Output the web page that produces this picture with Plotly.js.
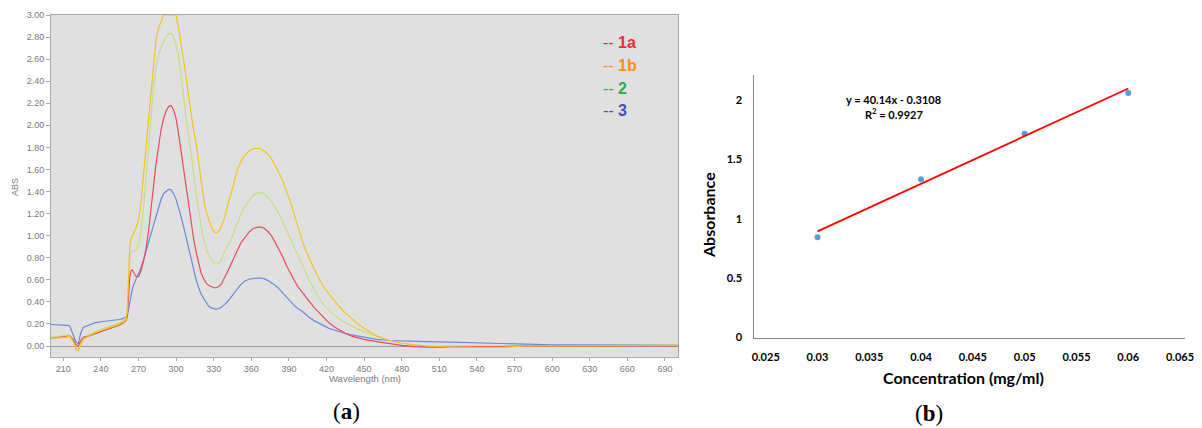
<!DOCTYPE html>
<html><head><meta charset="utf-8">
<script src="https://cdn.plot.ly/plotly-3.0.1.min.js"></script>
<style>html,body{margin:0;padding:0;background:#fff;} #chart{width:1202px;height:428px;}</style>
</head><body><div id="chart"></div>
<script>
// ---- Panel (a): UV-Vis spectra ----
const wavelength = [200,205,210,215,218,220,222,224,226,230,
 235,240,245,250,255,258,260,261,262,263,
 264,265,266,268,270,272,274,276,278,280,
 282,284,286,288,290,292,294,296,298,300,
 302,304,306,308,310,312,314,316,318,320,
 322,324,326,328,330,332,334,336,338,340,
 343,346,349,352,355,358,361,364,367,370,
 373,376,379,382,385,388,391,394,397,400,
 403,406,410,414,418,422,426,430,435,440,
 445,450,460,470,480,490,500,520,540,560,
 580,600,650,700];
const abs1a = [0.07,0.075,0.08,0.09,0.06,0.01,0.00,0.05,0.08,0.09,
 0.11,0.13,0.15,0.17,0.19,0.21,0.23,0.26,0.45,0.62,
 0.68,0.69,0.67,0.63,0.63,0.68,0.77,0.88,1.04,1.22,
 1.45,1.65,1.82,1.96,2.06,2.13,2.17,2.18,2.14,2.06,
 1.92,1.76,1.60,1.44,1.28,1.12,0.97,0.85,0.74,0.66,
 0.61,0.57,0.55,0.535,0.528,0.528,0.54,0.56,0.60,0.65,
 0.72,0.80,0.87,0.94,0.99,1.03,1.06,1.075,1.08,1.07,
 1.04,1.00,0.94,0.88,0.81,0.73,0.66,0.60,0.54,0.50,
 0.45,0.41,0.35,0.30,0.25,0.21,0.175,0.145,0.115,0.09,
 0.075,0.06,0.04,0.02,0.005,-0.005,-0.01,-0.012,-0.005,-0.005,
 0.0,-0.002,0.0,0.0];
const abs1b = [0.07,0.07,0.075,0.09,0.04,-0.03,-0.045,0.01,0.06,0.09,
 0.12,0.14,0.16,0.18,0.20,0.22,0.24,0.30,0.60,0.90,
 0.97,0.99,1.02,1.07,1.14,1.30,1.52,1.80,2.05,2.30,
 2.60,2.78,2.88,2.95,3.0,3.0,3.0,3.0,3.0,3.0,
 2.88,2.74,2.59,2.44,2.26,2.08,1.95,1.84,1.66,1.50,
 1.33,1.22,1.14,1.08,1.04,1.027,1.04,1.08,1.14,1.22,
 1.34,1.48,1.60,1.68,1.73,1.765,1.785,1.792,1.79,1.77,
 1.74,1.70,1.64,1.57,1.50,1.41,1.31,1.20,1.08,0.98,
 0.88,0.80,0.70,0.61,0.53,0.47,0.41,0.36,0.30,0.25,
 0.20,0.16,0.09,0.05,0.025,0.01,0.0,-0.012,-0.015,-0.012,
 0.0,0.0,0.0,0.005];
const abs2 = [0.08,0.085,0.09,0.10,0.05,-0.01,-0.03,0.03,0.07,0.10,
 0.13,0.15,0.17,0.19,0.21,0.23,0.25,0.30,0.55,0.78,
 0.85,0.86,0.86,0.87,0.92,1.05,1.25,1.52,1.83,2.10,
 2.35,2.52,2.64,2.71,2.76,2.80,2.83,2.835,2.80,2.73,
 2.64,2.45,2.24,2.07,1.91,1.75,1.57,1.38,1.22,1.08,
 0.97,0.88,0.82,0.78,0.75,0.743,0.75,0.78,0.83,0.89,
 0.94,1.03,1.12,1.20,1.27,1.32,1.36,1.385,1.39,1.38,
 1.35,1.31,1.26,1.20,1.13,1.05,0.97,0.90,0.83,0.76,
 0.68,0.60,0.51,0.43,0.37,0.32,0.28,0.25,0.21,0.18,
 0.155,0.13,0.09,0.05,0.025,0.01,0.002,0.0,0.002,0.0,
 0.002,0.002,0.005,0.01];
const abs3 = [0.195,0.195,0.19,0.185,0.10,0.04,0.02,0.12,0.17,0.19,
 0.21,0.22,0.225,0.23,0.24,0.25,0.26,0.27,0.33,0.40,
 0.45,0.51,0.55,0.60,0.65,0.71,0.78,0.86,0.94,1.02,
 1.10,1.18,1.26,1.33,1.38,1.40,1.42,1.415,1.38,1.33,
 1.26,1.17,1.08,0.98,0.88,0.78,0.68,0.60,0.53,0.47,
 0.43,0.39,0.36,0.345,0.337,0.335,0.34,0.35,0.37,0.39,
 0.43,0.48,0.52,0.56,0.59,0.605,0.613,0.616,0.616,0.61,
 0.595,0.575,0.55,0.52,0.48,0.44,0.40,0.37,0.34,0.32,
 0.29,0.26,0.23,0.205,0.18,0.16,0.145,0.13,0.115,0.10,
 0.09,0.075,0.06,0.05,0.045,0.04,0.04,0.035,0.03,0.025,
 0.015,0.01,0.01,0.01];
const seriesNames = ['1a','1b','2','3'];
const wlTicks = [210,240,270,300,330,360,390,420,450,480,510,540,570,600,630,660,690];
const absTicks = [0,0.2,0.4,0.6,0.8,1.0,1.2,1.4,1.6,1.8,2.0,2.2,2.4,2.6,2.8,3.0];

// ---- Panel (b): calibration ----
const concentration = [0.03, 0.04, 0.05, 0.06];
const absorbance = [0.845, 1.333, 1.717, 2.06];
const fitSlope = 40.14;
const fitIntercept = -0.3108;
const fitR2 = 0.9927;
const fitRange = [0.03, 0.06];
const concTicks = [0.025,0.03,0.035,0.04,0.045,0.05,0.055,0.06,0.065];
const concTickText = ['0.025','0.03','0.035','0.04','0.045','0.05','0.055','0.06','0.065'];
const absbTicks = [0, 0.5, 1, 1.5, 2];

const W = 1202, H = 428;
const px = v => v / W;
const py = v => 1 - v / H;

const lineColors = {'1a':'#e84a5a','1b':'#f6c21c','2':'#c4e07e','3':'#6d88de'};
const legendColors = {'1a':'#ee2a3a','1b':'#ff8c1a','2':'#2eae4a','3':'#3f4fc2'};
const seriesData = {'1a':abs1a,'1b':abs1b,'2':abs2,'3':abs3};

const traces = [];
['3','2','1a','1b'].forEach(n => {
  traces.push({x: wavelength, y: seriesData[n], type:'scatter', mode:'lines',
    name: n, xaxis:'x', yaxis:'y', line:{color: lineColors[n], width:1.2}, showlegend:false});
});
traces.push({x: concentration, y: absorbance, type:'scatter', mode:'markers',
  xaxis:'x2', yaxis:'y2', marker:{color:'#5b9bd5', size:6}, showlegend:false});
traces.push({x: fitRange, y: fitRange.map(c => fitSlope*c + fitIntercept), type:'scatter', mode:'lines',
  xaxis:'x2', yaxis:'y2', line:{color:'#ff0000', width:1.8}, showlegend:false});

const grayFont = {family:'Liberation Sans, Arial, sans-serif', size:9, color:'#7a7a7a'};
const boldFont = (s) => ({family:'Lato, Open Sans, sans-serif', size:s, color:'#000', weight:'bold'});

const annotations = [];
annotations.push({xref:'paper', yref:'paper', x:px(15), y:py(187), text:'ABS', textangle:-90, showarrow:false,
  xanchor:'center', yanchor:'middle', font:grayFont});
annotations.push({xref:'paper', yref:'paper', x:px(365), y:py(378), text:'Wavelength (nm)', showarrow:false,
  xanchor:'center', yanchor:'middle', font:{family:'Liberation Sans, Arial, sans-serif', size:9.5, color:'#7a7a7a'}});
const legendY = [42.7, 65.7, 88.3, 110.7];
seriesNames.forEach((n, i) => {
  annotations.push({xref:'paper', yref:'paper', x:px(601), y:py(legendY[i]), text:'-- <b>' + n + '</b>', showarrow:false,
    xanchor:'left', yanchor:'middle', font:{family:'Liberation Sans, Arial, sans-serif', size:16, color: legendColors[n]}});
});
annotations.push({xref:'paper', yref:'paper', x:px(708), y:py(215), text:'<b>Absorbance</b>', textangle:-90, showarrow:false,
  xanchor:'center', yanchor:'middle', font:{family:'Lato, sans-serif', size:16, color:'#000'}});
annotations.push({xref:'paper', yref:'paper', x:px(963), y:py(377), text:'<b>Concentration (mg/ml)</b>', showarrow:false,
  xanchor:'center', yanchor:'middle', font:{family:'Lato, sans-serif', size:16, color:'#000'}});
annotations.push({xref:'paper', yref:'paper', x:px(893), y:py(99), text:'<b>y = ' + fitSlope.toFixed(2) + 'x - ' + Math.abs(fitIntercept).toFixed(4) + '</b>', showarrow:false,
  xanchor:'center', yanchor:'middle', font:{family:'Lato, sans-serif', size:11, color:'#000'}});
annotations.push({xref:'paper', yref:'paper', x:px(894), y:py(114), text:'<b>R<sup>2</sup> = ' + fitR2.toFixed(4) + '</b>', showarrow:false,
  xanchor:'center', yanchor:'middle', font:{family:'Lato, sans-serif', size:11, color:'#000'}});
annotations.push({xref:'paper', yref:'paper', x:px(346), y:py(411), text:'(<b>a</b>)', showarrow:false,
  xanchor:'center', yanchor:'middle', font:{family:'Liberation Serif, Times New Roman, serif', size:23, color:'#000'}});
annotations.push({xref:'paper', yref:'paper', x:px(929), y:py(413), text:'(<b>b</b>)', showarrow:false,
  xanchor:'center', yanchor:'middle', font:{family:'Liberation Serif, Times New Roman, serif', size:23, color:'#000'}});

const layout = {
  width: W, height: H,
  margin: {l:0, r:0, t:0, b:0, pad:0},
  paper_bgcolor:'#ffffff',
  plot_bgcolor:'#ffffff',
  showlegend:false,
  xaxis: {domain:[px(51), px(678)], range:[200.2, 700.4], tickvals: wlTicks, ticktext: wlTicks.map(String),
    showgrid:false, zeroline:false, showline:true, linecolor:'#a8a8a8', linewidth:1, mirror:true,
    ticks:'outside', ticklen:3, tickcolor:'#a8a8a8', tickfont: grayFont, automargin:false, fixedrange:true},
  yaxis: {domain:[1-356.7/H, 1-15/H], range:[-0.097, 3.0], tickvals: absTicks, ticktext: absTicks.map(v => v.toFixed(2)),
    showgrid:false, zeroline:true, zerolinecolor:'#9a9a9a', zerolinewidth:1, showline:true, linecolor:'#a8a8a8', linewidth:1, mirror:true,
    ticks:'outside', ticklen:4, tickcolor:'#a8a8a8', tickfont: grayFont, automargin:false, fixedrange:true},
  xaxis2: {domain:[px(754.3), px(1185)], range:[0.0239, 0.06548], anchor:'y2', tickvals: concTicks, ticktext: concTickText,
    showgrid:false, zeroline:false, showline:true, linecolor:'#868686', linewidth:1, ticks:'', ticklabelstandoff:9,
    tickfont:{family:'Lato, sans-serif', size:11, color:'#000', weight:'bold'}, automargin:false, fixedrange:true},
  yaxis2: {domain:[1-337.5/H, 1-75/H], range:[0, 2.211], anchor:'x2', tickvals: absbTicks, ticktext: absbTicks.map(String),
    showgrid:false, zeroline:false, showline:true, linecolor:'#868686', linewidth:1, ticks:'', ticklabelstandoff:9,
    tickfont:{family:'Lato, sans-serif', size:11, color:'#000', weight:'bold'}, automargin:false, fixedrange:true},
  shapes: [{type:'rect', xref:'paper', yref:'paper', x0:px(51), x1:px(678), y0:1-356.7/H, y1:1-15/H,
    fillcolor:'#e0e0e0', line:{width:0}, layer:'below'}],
  annotations: annotations
};

Plotly.newPlot('chart', traces, layout, {staticPlot:true, displayModeBar:false});
</script>
</body></html>
